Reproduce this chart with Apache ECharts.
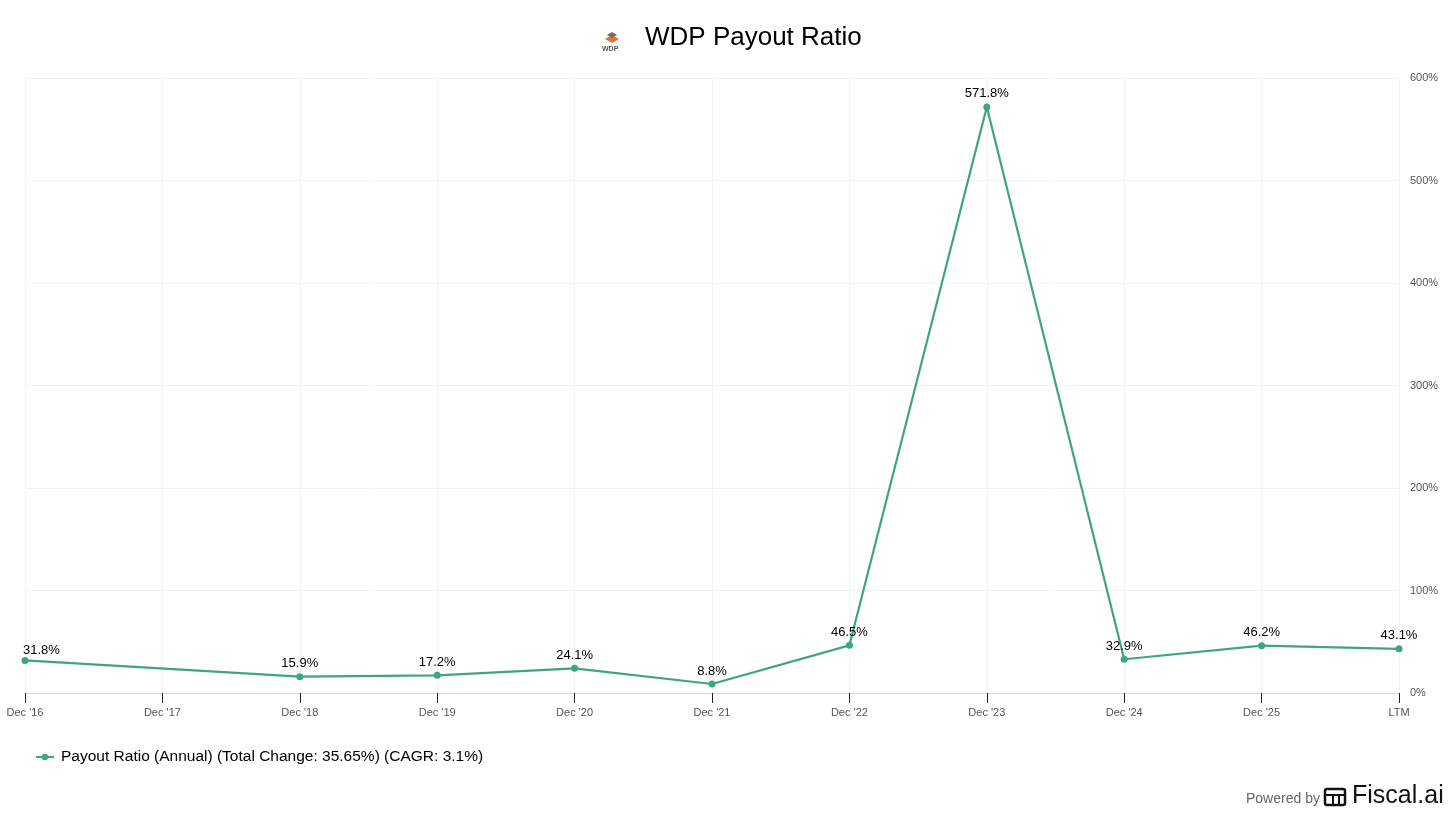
<!DOCTYPE html>
<html>
<head>
<meta charset="utf-8">
<script src="https://cdn.jsdelivr.net/npm/echarts@6/dist/echarts.min.js"></script>
<style>
  html, body { margin: 0; padding: 0; background: #fff; }
  #chart { width: 1456px; height: 819px; }
</style>
</head>
<body>
<div id="chart"></div>
<script>
// categories and values
const years = ["Dec '16", "Dec '17", "Dec '18", "Dec '19", "Dec '20", "Dec '21", "Dec '22", "Dec '23", "Dec '24", "Dec '25", "LTM"];
const payoutRatio = [31.8, null, 15.9, 17.2, 24.1, 8.8, 46.5, 571.8, 32.9, 46.2, 43.1];
const yTicks = [0, 100, 200, 300, 400, 500, 600];

const lineColor = '#3fa57f';

let myChart = echarts.init(document.getElementById('chart'));

// first label sits to the right of its point so it isn't cut off
const seriesData = payoutRatio.map((v, i) => {
    if (i === 0) {
        return {value: v, label: {align: 'left', offset: [-2, 3]}};
    }
    return v;
});

const option = {
    animation: false,
    backgroundColor: '#fff',
    textStyle: {fontFamily: 'Helvetica, Arial, "Liberation Sans", sans-serif'},
    title: {
        text: 'WDP Payout Ratio',
        left: 640,
        top: 20,
        textStyle: {fontSize: 26, fontWeight: 'normal', color: '#000'}
    },
    grid: {left: 25, right: 57, top: 78, bottom: 126},
    legend: {
        left: 30,
        top: 744,
        itemWidth: 18,
        itemHeight: 8,
        textStyle: {fontSize: 15.5, color: '#000', padding: [0, 0, 0, 2]},
        data: ['Payout Ratio (Annual) (Total Change: 35.65%) (CAGR: 3.1%)']
    },
    xAxis: {
        type: 'category',
        data: years,
        boundaryGap: false,
        axisLine: {lineStyle: {color: '#d6d6d6'}},
        axisTick: {show: true, length: 10, lineStyle: {color: '#222'}},
        axisLabel: {color: '#555', fontSize: 11, margin: 14},
        splitLine: {show: true, lineStyle: {color: '#f3f3f3'}}
    },
    yAxis: {
        type: 'value',
        position: 'right',
        min: yTicks[0],
        max: yTicks[yTicks.length - 1],
        interval: 100,
        axisLine: {show: false},
        axisTick: {show: false},
        axisLabel: {color: '#555', fontSize: 11, margin: 11, formatter: v => v + '%'},
        splitLine: {show: true, lineStyle: {color: '#f3f3f3'}}
    },
    series: [{
        name: 'Payout Ratio (Annual) (Total Change: 35.65%) (CAGR: 3.1%)',
        type: 'line',
        data: seriesData,
        connectNulls: true,
        symbol: 'circle',
        symbolSize: 7,
        color: lineColor,
        lineStyle: {width: 2.2, color: lineColor},
        itemStyle: {color: lineColor},
        label: {
            show: true,
            position: 'top',
            distance: 3,
            color: '#000',
            fontSize: 13,
            formatter: p => p.value == null ? '' : p.value.toFixed(1) + '%'
        }
    }],
    graphic: [
        // WDP logo
        {type: 'polygon', shape: {points: [[612, 35], [619, 39], [612, 43], [605, 39]]}, style: {fill: '#e8742a'}},
        {type: 'polygon', shape: {points: [[612, 32], [617, 35], [612, 38], [607, 35]]}, style: {fill: '#6d6d6d'}},
        {type: 'text', left: 602, top: 46, style: {text: 'WDP', fontSize: 7, fontWeight: 'bold', fill: '#555'}},
        // footer
        {type: 'text', left: 1246, top: 792, style: {text: 'Powered by', fontSize: 14, fill: '#666'}},
        {type: 'rect', shape: {x: 1325, y: 789, width: 20, height: 16, r: 2}, style: {fill: 'none', stroke: '#111', lineWidth: 2.5}},
        {type: 'line', shape: {x1: 1325, y1: 795, x2: 1345, y2: 795}, style: {stroke: '#111', lineWidth: 2}},
        {type: 'line', shape: {x1: 1333, y1: 795, x2: 1333, y2: 805}, style: {stroke: '#111', lineWidth: 2}},
        {type: 'line', shape: {x1: 1339, y1: 795, x2: 1339, y2: 805}, style: {stroke: '#111', lineWidth: 2}},
        {type: 'text', left: 1352, top: 784, style: {text: 'Fiscal.ai', fontSize: 25, fontWeight: 500, fill: '#111'}}
    ]
};

myChart.setOption(option);
window.addEventListener('resize', () => {
    myChart.resize();
});
</script>
</body>
</html>
